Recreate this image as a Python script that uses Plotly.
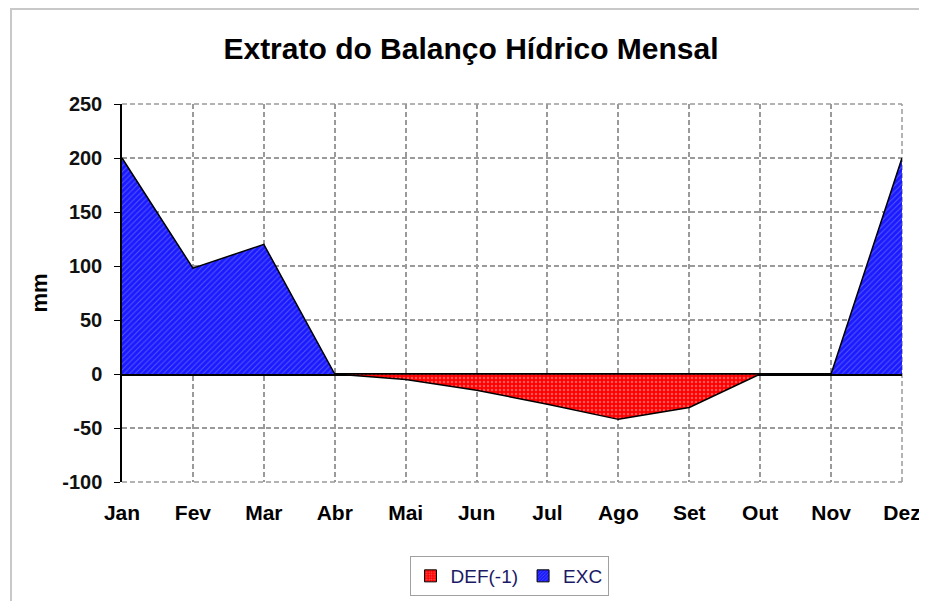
import plotly.graph_objects as go

months = ["Jan", "Fev", "Mar", "Abr", "Mai", "Jun", "Jul", "Ago", "Set", "Out", "Nov", "Dez"]
exc = [200, 98, 120, 0, 0, 0, 0, 0, 0, 0, 0, 200]
def_neg = [0, 0, 0, 0, -5, -15, -28, -42, -31, 0, 0, 0]
y_ticks = [-100, -50, 0, 50, 100, 150, 200, 250]
y_tick_labels = [str(v) for v in y_ticks]

xs = list(range(len(months)))
FONT = "Liberation Sans, Arial, sans-serif"
GRID = "#9a9a9a"
DASH = "5px,3px"

fig = go.Figure()

fig.add_trace(go.Scatter(
    x=xs, y=def_neg, mode="lines", fill="tozeroy",
    fillcolor="#ff0000",
    fillpattern=dict(shape=".", bgcolor="#ff0000", fgcolor="#ffb0b0", size=4, solidity=0.3),
    line=dict(color="black", width=1.5), showlegend=False, hoverinfo="skip",
))
fig.add_trace(go.Scatter(
    x=xs, y=exc, mode="lines", fill="tozeroy",
    fillcolor="#0000ff",
    fillpattern=dict(shape="/", bgcolor="#1a1aff", fgcolor="#9090ff", size=4, solidity=0.25),
    line=dict(color="black", width=1.5), showlegend=False, hoverinfo="skip",
))

# legend entries
fig.add_trace(go.Bar(
    x=[None], y=[None], name="DEF(-1)",
    marker=dict(color="#ff0000", line=dict(color="black", width=1),
                pattern=dict(shape=".", bgcolor="#ff0000", fgcolor="#ffb0b0", size=3, solidity=0.3)),
))
fig.add_trace(go.Bar(
    x=[None], y=[None], name="EXC",
    marker=dict(color="#0000ff", line=dict(color="black", width=1),
                pattern=dict(shape="/", bgcolor="#1a1aff", fgcolor="#9090ff", size=3, solidity=0.3)),
))

# page body has an 8px margin: target screen px -> figure px
OFF = 8
W, H = 927, 601
L, T = 122 - OFF, 104 - OFF
R = W - (902 - OFF)
B = H - (482 - OFF)
PW, PH = W - L - R, H - T - B


def px_x(p):
    return (p - OFF - L) / PW


def px_y(p):
    return (H - B - (p - OFF)) / PH


fig.update_layout(
    width=W, height=H,
    margin=dict(l=L, r=R, t=T, b=B, autoexpand=False),
    paper_bgcolor="white", plot_bgcolor="white",
    font=dict(family=FONT, color="black"),
    title=dict(text="<b>Extrato do Balanço Hídrico Mensal</b>", font=dict(size=30, color="black"),
               x=(471 - OFF) / W, xanchor="center", xref="container",
               y=1 - (48 - OFF) / H, yanchor="middle", yref="container"),
    xaxis=dict(
        range=[0, len(months) - 1], tickmode="array", tickvals=xs, ticktext=months,
        showgrid=True, gridcolor=GRID, gridwidth=1.5, griddash=DASH,
        zeroline=False, showline=False, automargin=False,
        ticks="outside", ticklen=10, tickcolor="rgba(0,0,0,0)",
        ticklabelstandoff=2,
        tickfont=dict(size=21, family=FONT, color="black", weight="bold"),
    ),
    yaxis=dict(
        range=[-100, 250], tickmode="array", tickvals=y_ticks, ticktext=y_tick_labels,
        showgrid=True, gridcolor=GRID, gridwidth=1.5, griddash=DASH,
        zeroline=True, zerolinecolor="black", zerolinewidth=2.5,
        showline=True, linecolor="black", linewidth=1.5, automargin=False,
        ticks="outside", ticklen=6, tickcolor="black", tickwidth=1,
        ticklabelstandoff=8,
        tickfont=dict(size=20, family=FONT, color="#111", weight="bold"),
        title=dict(text="<b>mm</b>", font=dict(size=22, color="black"), standoff=9),
    ),
    legend=dict(
        orientation="h", x=px_x(509), xanchor="center", y=px_y(556), yanchor="top",
        bordercolor="#a0a0a0", borderwidth=1, bgcolor="white",
        font=dict(size=19, family=FONT, color="#1a1a66"),
        itemwidth=30, tracegroupgap=0,
    ),
    shapes=[
        # outer frame (left and top)
        dict(type="line", xref="paper", yref="paper",
             x0=px_x(11), x1=px_x(11), y0=px_y(8), y1=px_y(H + OFF),
             line=dict(color="#c8c8c8", width=2)),
        dict(type="line", xref="paper", yref="paper",
             x0=px_x(11), x1=px_x(W + OFF), y0=px_y(9), y1=px_y(9),
             line=dict(color="#c8c8c8", width=2)),
        # plot-area edge gridlines
        dict(type="line", xref="paper", yref="paper", layer="below",
             x0=0, x1=1, y0=1, y1=1, line=dict(color=GRID, width=1.5, dash=DASH)),
        dict(type="line", xref="paper", yref="paper", layer="below",
             x0=0, x1=1, y0=0, y1=0, line=dict(color=GRID, width=1.5, dash=DASH)),
        dict(type="line", xref="paper", yref="paper", layer="below",
             x0=1, x1=1, y0=0, y1=1, line=dict(color=GRID, width=1.5, dash=DASH)),
    ],
    barmode="overlay",
)

fig.write_html("out.html")
